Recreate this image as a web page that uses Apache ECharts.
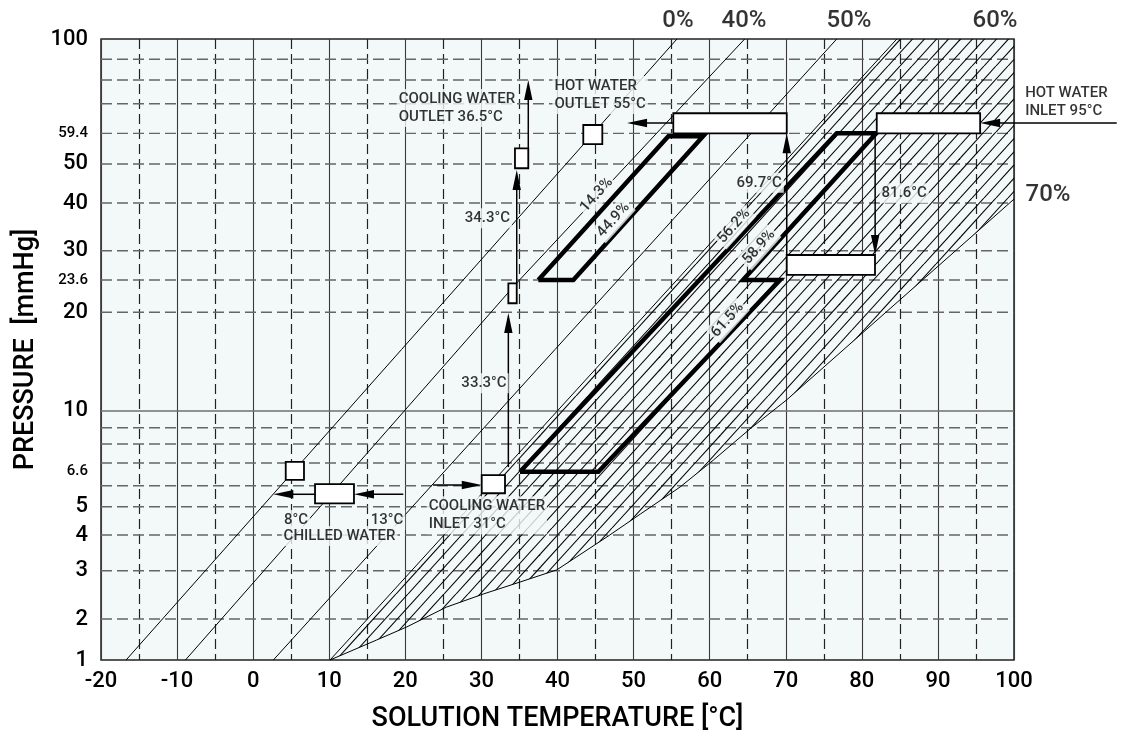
<!DOCTYPE html>
<html><head><meta charset="utf-8">
<script src="https://cdn.jsdelivr.net/npm/echarts@6/dist/echarts.min.js"></script>
<style>html,body{margin:0;padding:0;background:#fff}#c{width:1125px;height:739px}</style>
</head><body><div id="c"></div>
<script>
// ---------- axis scale (Dühring chart: pressure axis read as equivalent saturation temperature) ----------
const tempMin = -20, tempMax = 100, tempStep = 10;
const scaleP = [1, 2, 3, 4, 5, 6, 7, 8, 9, 10, 20, 23.6, 30, 40, 50, 59.4, 70, 80, 90, 100];
const scaleU = [-15.68, -11.24, -6.01, -2.14, 0.93, 3.20, 5.66, 7.72, 9.49, 11.30, 21.99, 25.49, 28.66, 33.83, 38.06, 41.38, 44.59, 47.16, 49.40, 51.60];
const gridPressures = [2, 3, 4, 5, 6, 7, 8, 9, 10, 20, 23.6, 30, 40, 50, 59.4, 70, 80, 90];
const labeledPressures = [1, 2, 3, 4, 5, 6.6, 10, 20, 23.6, 30, 40, 50, 59.4, 100];
const smallLabelPressures = [6.6, 23.6, 59.4];

// ---------- concentration lines [temperature °C, pressure mmHg] ----------
const line0 = [[-16.7, 1], [55.7, 100]];
const line40 = [[-8.9, 1], [34.6, 23.2], [64.6, 100]];
const line50 = [[2.65, 1], [76.7, 100]];
const hatchEdge = [[10.1, 1], [84.6, 100]];
const crystCurve = [[10.1, 1], [16.2, 1.40], [20.2, 1.75], [25.4, 2.21], [30.3, 2.47], [35.1, 2.73], [39.9, 3.02],
  [42.1, 3.30], [46.5, 3.94], [50.9, 4.72], [56.1, 5.93], [60.5, 7.15], [65.3, 8.92], [70.1, 10.8]];
const line70 = [[70.1, 10.8], [100, 40.9]];

// ---------- cycle ----------
const cycleLow = [[35.07, 6.6], [76.7, 59.4], [81.9, 59.4], [64.38, 23.6], [69.25, 23.6], [45.37, 6.6], [35.07, 6.6]];
const cycleHigh = [[37.48, 23.6], [54.57, 58.4], [59.13, 58.4], [42.08, 23.6], [37.48, 23.6]];

// boxes: [T1, P1, T2, P2]
const boxes = [
  [81.96, 59.4, 95.55, 66.4],
  [55.22, 59.4, 70.13, 66.4],
  [70.13, 24.6, 81.73, 28.97],
  [43.39, 55.9, 45.89, 62.2],
  [34.41, 48.8, 36.16, 54.6],
  [33.54, 20.95, 34.64, 23.2],
  [30.04, 5.62, 33.1, 6.45],
  [8.13, 5.15, 13.25, 6.07],
  [4.28, 6.24, 6.68, 7.06]
];
// arrows: [T from, P from, T to (tip), P to (tip)]
const arrows = [
  [113.5, 62.9, 95.55, 62.9],
  [81.75, 59.4, 81.75, 28.97],
  [70.13, 28.97, 70.13, 59.4],
  [55.22, 62.9, 49.14, 62.9],
  [23.64, 6.03, 30.04, 6.03],
  [33.54, 6.81, 33.54, 19.9],
  [34.64, 23.2, 34.64, 48.3],
  [36.16, 54.6, 36.16, 80],
  [19.73, 5.57, 13.25, 5.57],
  [8.13, 5.57, 2.65, 5.57]
];

// annotations
const notes = [
  {text: 'HOT WATER\nINLET 95°C', at: [101.2, 70.6], align: 'left', bg: false},
  {text: 'HOT WATER\nOUTLET 55°C', at: [39.33, 73.5], align: 'left'},
  {text: 'COOLING WATER\nOUTLET 36.5°C', at: [18.87, 68.4], align: 'left'},
  {text: 'COOLING WATER\nINLET 31°C', at: [22.81, 4.67], align: 'left'},
  {text: '8°C', at: [5.63, 4.50]},
  {text: '13°C', at: [17.59, 4.50]},
  {text: 'CHILLED WATER', at: [11.35, 3.97]},
  {text: '33.3°C', at: [30.34, 12.15]},
  {text: '34.3°C', at: [30.79, 36.5]},
  {text: '69.7°C', at: [66.51, 44.9]},
  {text: '81.6°C', at: [85.57, 42.3]},
  {text: '14.3%', at: [45.15, 41.9], rotate: 48},
  {text: '44.9%', at: [47.34, 36.1], rotate: 48},
  {text: '56.2%', at: [63.2, 34.8], rotate: 48},
  {text: '58.9%', at: [66.49, 30.67], rotate: 48},
  {text: '61.5%', at: [62.35, 18.95], rotate: 48}
];
const concLabels = [
  {text: '0%', at: [55.84, 100], pos: 'top'},
  {text: '40%', at: [64.52, 100], pos: 'top'},
  {text: '50%', at: [78.32, 100], pos: 'top'},
  {text: '60%', at: [97.51, 100], pos: 'top'},
  {text: '70%', at: [100, 41.9], pos: 'right'}
];

// ---------- helpers ----------
function toU(p) {
  const L = Math.log; let i = 0;
  if (p >= scaleP[scaleP.length - 1]) i = scaleP.length - 2;
  else if (p > scaleP[0]) { while (p > scaleP[i + 1]) i++; }
  const f = (L(p) - L(scaleP[i])) / (L(scaleP[i + 1]) - L(scaleP[i]));
  return scaleU[i] + f * (scaleU[i + 1] - scaleU[i]);
}
const pt = q => [q[0], toU(q[1])];
const FONT = 'Roboto, "Noto Sans", "DejaVu Sans", sans-serif';
const BG = '#f3f9f9';

function makeHatch() {
  const W = 60, H = 66, c = document.createElement('canvas');
  c.width = W; c.height = H;
  const ctx = c.getContext('2d');
  ctx.strokeStyle = '#000'; ctx.lineWidth = 1.05;
  for (let i = 0; i < 5; i++) for (let j = -1; j <= 1; j++) {
    const x0 = i * 12 + j * W;
    ctx.beginPath(); ctx.moveTo(x0, H); ctx.lineTo(x0 + W, 0); ctx.stroke();
  }
  return c;
}
const hatchCanvas = makeHatch();
const hatchPolygon = [...hatchEdge, [tempMax, 100], ...line70.slice().reverse(), ...crystCurve.slice().reverse()];

const labelMap = labeledPressures.map(p => ({u: toU(p), p}));

function lineSeries(data, width, z) {
  return {type: 'line', data: data.map(pt), symbol: 'none', silent: true, z,
    lineStyle: {color: '#000', width, join: 'miter', miterLimit: 10, cap: 'butt'}};
}

const chart = echarts.init(document.getElementById('c'));
chart.setOption({
  animation: false,
  textStyle: {fontFamily: FONT},
  grid: {left: 101, right: 111, top: 39, bottom: 79, show: true, backgroundColor: BG, borderColor: '#222', borderWidth: 1.5},
  xAxis: {
    type: 'value', min: tempMin, max: tempMax, interval: tempStep,
    axisLine: {show: false}, axisTick: {show: false},
    axisLabel: {fontSize: 22, color: '#000', margin: 10, fontFamily: FONT, fontWeight: 500},
    splitLine: {show: true, lineStyle: {color: '#3a3a3a', width: 1.1}},
    minorTick: {show: false, splitNumber: 2},
    minorSplitLine: {show: true, lineStyle: {color: '#222', width: 1.2, type: [10, 5]}},
    name: 'SOLUTION TEMPERATURE [°C]', nameLocation: 'middle', nameGap: 46,
    nameTextStyle: {fontSize: 27, color: '#000', fontFamily: FONT, fontWeight: 500}
  },
  yAxis: {
    type: 'value', min: toU(1), max: toU(100),
    axisLine: {show: false}, axisTick: {show: false}, splitLine: {show: false},
    axisLabel: {
      customValues: labelMap.map(m => m.u), margin: 13, fontSize: 22, color: '#000', fontFamily: FONT,
      formatter: v => {
        let best = labelMap[0];
        for (const m of labelMap) if (Math.abs(m.u - v) < Math.abs(best.u - v)) best = m;
        return (smallLabelPressures.includes(best.p) ? '{s|' : '{b|') + best.p + '}';
      },
      rich: {b: {fontSize: 22, fontFamily: FONT, fontWeight: 500, color: '#000'}, s: {fontSize: 15, fontFamily: FONT, fontWeight: 500, color: '#000'}}
    },
    name: 'PRESSURE  [mmHg]', nameLocation: 'middle', nameRotate: 90, nameGap: 54,
    nameTextStyle: {fontSize: 27, color: '#000', fontFamily: FONT, fontWeight: 500}
  },
  series: [
    {type: 'custom', z: 1, silent: true, encode: {x: 0, y: 1},
      data: gridPressures.map(p => [tempMin, toU(p), p === 10 ? 1 : 0]),
      renderItem: (params, api) => {
        const cs = params.coordSys;
        const y = api.coord([api.value(0), api.value(1)])[1];
        const solid = api.value(2) === 1;
        return {type: 'line', shape: {x1: cs.x, y1: y, x2: cs.x + cs.width, y2: y},
          style: solid ? {stroke: '#6f6f6f', lineWidth: 1.4} : {stroke: '#666', lineWidth: 1.4, lineDash: [11, 5]}};
      }},
    {type: 'custom', z: 2, silent: true, data: [[0, 0]], encode: {x: 0, y: 1},
      renderItem: (params, api) => ({type: 'polygon',
        shape: {points: hatchPolygon.map(q => api.coord(pt(q)))},
        style: {fill: {image: hatchCanvas, repeat: 'repeat'}, stroke: null}})},
    lineSeries(line0, 1, 3),
    lineSeries(line40, 1, 3),
    lineSeries(line50, 1, 3),
    lineSeries(hatchEdge, 1, 3),
    lineSeries(crystCurve, 1, 3),
    lineSeries(line70, 1, 3),
    lineSeries(cycleLow, 4.5, 4),
    lineSeries(cycleHigh, 4.5, 4),
    {type: 'custom', z: 5, silent: true, clip: false, encode: {x: [0, 2], y: [1, 3]},
      data: arrows.map(a => [a[0], toU(a[1]), a[2], toU(a[3])]),
      renderItem: (params, api) => {
        const p1 = api.coord([api.value(0), api.value(1)]);
        const p2 = api.coord([api.value(2), api.value(3)]);
        const dx = p2[0] - p1[0], dy = p2[1] - p1[1], len = Math.hypot(dx, dy);
        const ux = dx / len, uy = dy / len, hl = 20, hw = 4.2;
        const bx = p2[0] - ux * hl, by = p2[1] - uy * hl;
        return {type: 'group', children: [
          {type: 'line', shape: {x1: p1[0], y1: p1[1], x2: bx + ux * 2, y2: by + uy * 2}, style: {stroke: '#000', lineWidth: 1.5}},
          {type: 'polygon', shape: {points: [[p2[0], p2[1]], [bx - uy * hw, by + ux * hw], [bx + uy * hw, by - ux * hw]]}, style: {fill: '#000'}}
        ]};
      }},
    {type: 'custom', z: 6, silent: true, encode: {x: [0, 2], y: [1, 3]},
      data: boxes.map(b => [b[0], toU(b[1]), b[2], toU(b[3])]),
      renderItem: (params, api) => {
        const p1 = api.coord([api.value(0), api.value(1)]);
        const p2 = api.coord([api.value(2), api.value(3)]);
        return {type: 'rect', shape: {x: Math.min(p1[0], p2[0]), y: Math.min(p1[1], p2[1]),
          width: Math.abs(p2[0] - p1[0]), height: Math.abs(p2[1] - p1[1])},
          style: {fill: '#fff', stroke: '#000', lineWidth: 1.8}};
      }},
    {type: 'scatter', z: 7, silent: true, clip: false, symbolSize: 1, itemStyle: {color: 'rgba(0,0,0,0)'},
      data: notes.map(n => ({value: pt(n.at), label: {show: true, formatter: n.text, position: 'inside',
        align: n.align || 'center', verticalAlign: 'middle', rotate: n.rotate || 0,
        fontSize: 15, lineHeight: 18, color: '#000', fontFamily: FONT, fontWeight: 500,
        backgroundColor: n.bg === false ? 'transparent' : BG, padding: [1, 2]}}))},
    {type: 'scatter', z: 7, silent: true, clip: false, symbolSize: 1, itemStyle: {color: 'rgba(0,0,0,0)'},
      data: concLabels.map(n => ({value: pt(n.at), label: {show: true, formatter: n.text, position: n.pos,
        distance: n.pos === 'top' ? 6 : 11, fontSize: 24, color: '#000', fontFamily: FONT, fontWeight: 500}}))}
  ]
});
</script></body></html>
